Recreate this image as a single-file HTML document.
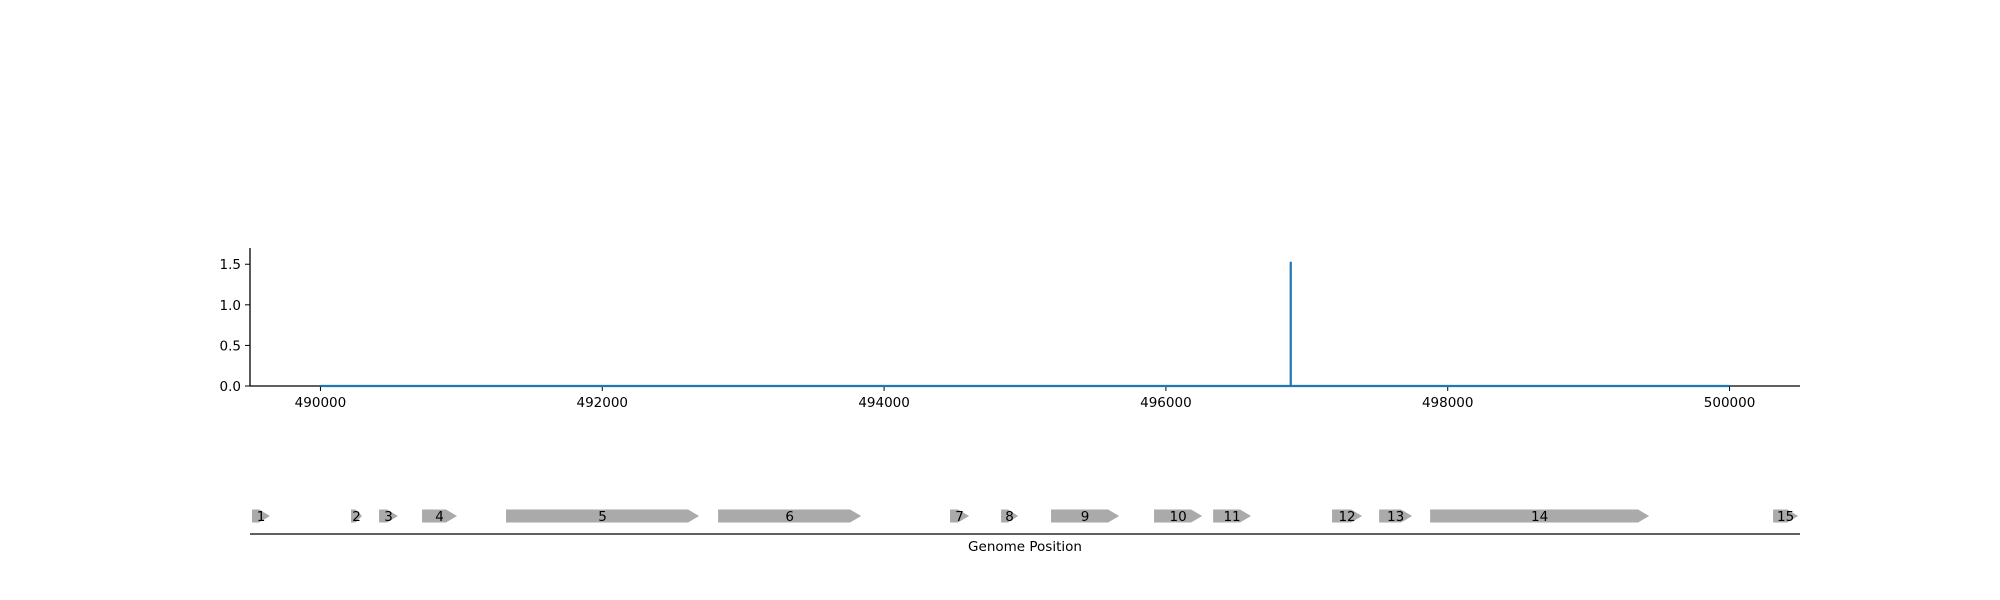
<!DOCTYPE html>
<html><head><meta charset="utf-8"><style>
html,body{margin:0;padding:0;background:#fff;}
svg{display:block;font-family:"DejaVu Sans","Liberation Sans",sans-serif;}
</style></head><body>
<svg id="chart" width="2000" height="600" viewBox="0 0 2000 600" xmlns="http://www.w3.org/2000/svg"></svg>
<script>
const xTicks = [490000, 492000, 494000, 496000, 498000, 500000];
const yTicks = [0.0, 0.5, 1.0, 1.5];
const covPos = [490000, 496886, 496886, 496886, 500000];
const covVal = [0, 0, 1.53, 0, 0];
const geneLabels = ["1","2","3","4","5","6","7","8","9","10","11","12","13","14","15"];
const geneStart = [489514,490217,490416,490721,491317,492822,494468,494830,495185,495916,496335,497179,497513,497875,500309];
const geneEnd = [489642,490295,490550,490969,492687,493837,494603,494951,495668,496257,496604,497392,497747,499429,500487];

const NS = "http://www.w3.org/2000/svg";
const svg = document.getElementById("chart");
const X0 = 250, X1 = 1800, XMIN = 489500, XMAX = 500500;
const Y0 = 386, YTOP = 248, YMAX = 1.70;
const xs = v => X0 + (v - XMIN) / (XMAX - XMIN) * (X1 - X0);
const ys = v => Y0 - v / YMAX * (Y0 - YTOP);
function mk(tag, attrs, parent) {
  const e = document.createElementNS(NS, tag);
  for (const k in attrs) e.setAttribute(k, attrs[k]);
  (parent || svg).appendChild(e);
  return e;
}
const ax = mk("g", {});


const yl = mk("line", {x1: X0, y1: YTOP, x2: X0, y2: Y0, stroke: "#000", "stroke-width": 1.3}, ax);


const xl = mk("line", {x1: X0, y1: Y0, x2: X1, y2: Y0, stroke: "#000", "stroke-width": 1.3}, ax);


yTicks.forEach(t => {
  const y = ys(t);
  const tk = mk("line", {x1: X0 - 5, y1: y, x2: X0, y2: y, stroke: "#000", "stroke-width": 1}, ax);
  
  
  const tx = mk("text", {x: X0 - 9, y: y + 5, "text-anchor": "end", "font-size": 13.5, fill: "#000"}, ax);
  tx.textContent = t.toFixed(1);
  
  
});
xTicks.forEach(t => {
  const x = xs(t);
  const tk = mk("line", {x1: x, y1: Y0, x2: x, y2: Y0 + 5, stroke: "#000", "stroke-width": 1}, ax);
  
  
  const tx = mk("text", {x: x, y: Y0 + 21, "text-anchor": "middle", "font-size": 13.5, fill: "#000"}, ax);
  tx.textContent = String(t);
  
  
});
let d = "";
covPos.forEach((p, i) => { d += (i ? "L" : "M") + xs(p).toFixed(2) + "," + ys(covVal[i]).toFixed(2); });
const line = mk("path", {d: d, fill: "none", stroke: "#1f77b4", "stroke-width": 2.2});


const GY = 516, GH = 13, HEAD = 11;
const track = mk("g", {});


geneLabels.forEach((lab, i) => {
  const a = xs(geneStart[i]), b = xs(geneEnd[i]);
  const h = Math.min(HEAD, (b - a) * 0.6);
  const pts = [[a, GY - GH/2], [b - h, GY - GH/2], [b, GY], [b - h, GY + GH/2], [a, GY + GH/2]];
  const poly = mk("polygon", {points: pts.map(p => p.join(",")).join(" "), fill: "#aaaaaa"}, track);
  
  
  const tx = mk("text", {x: (a + b) / 2, y: GY + 5, "text-anchor": "middle", "font-size": 13.5, fill: "#000"}, track);
  tx.textContent = lab;
  
  
});
const bl = mk("line", {x1: X0, y1: 534, x2: X1, y2: 534, stroke: "#000", "stroke-width": 1.3});


const title = mk("text", {x: (X0 + X1) / 2, y: 551, "text-anchor": "middle", "font-size": 13.5, fill: "#000"});
title.textContent = "Genome Position";


</script>
</body></html>
